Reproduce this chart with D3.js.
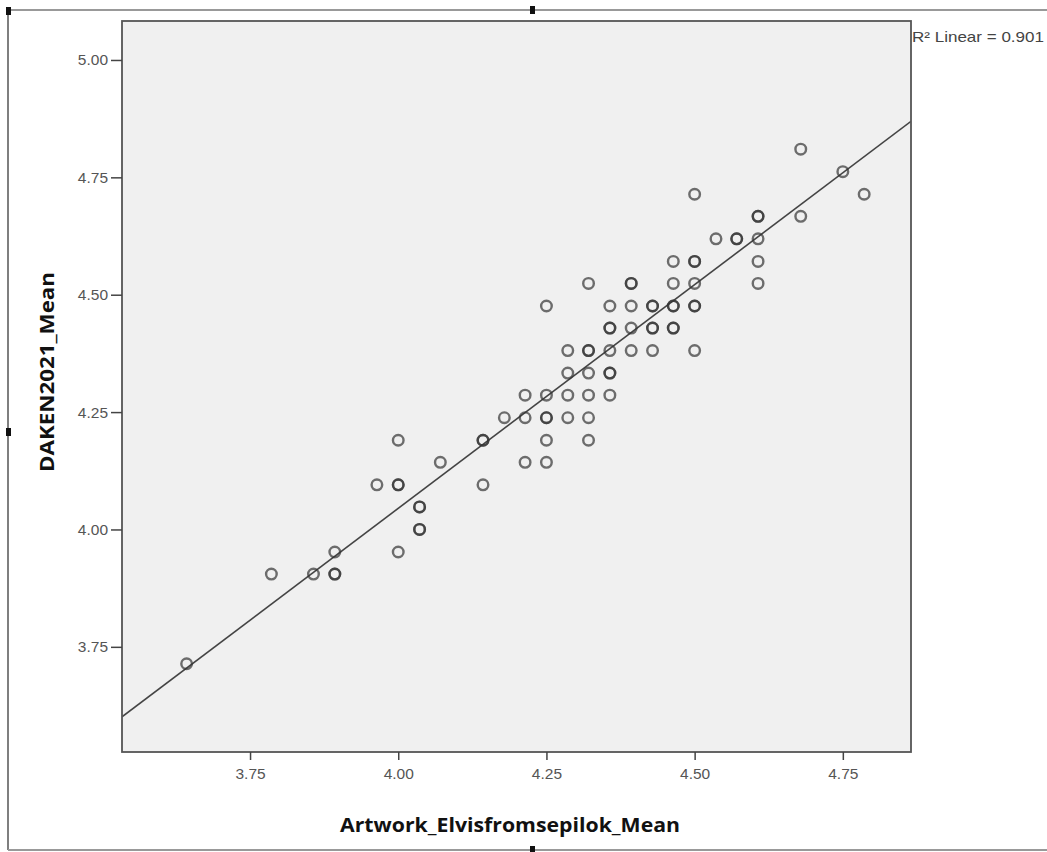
<!DOCTYPE html>
<html>
<head>
<meta charset="utf-8">
<script src="https://cdn.jsdelivr.net/npm/d3@7"></script>
<style>
  body { margin: 0; background: #fff; }
  .tick text { font-family: "Liberation Sans", Arial, sans-serif; font-size: 15.5px; fill: #555; }
  .tick line { stroke: #444; stroke-width: 1.5; }
  .title { font-family: "Open Sans", sans-serif; font-weight: bold; font-size: 20px; fill: #111; }
</style>
</head>
<body>
<svg id="chart"></svg>
<script>
// data (x steps of 1/28, y steps of 1/21)
var xValues = [3.643, 3.786, 3.857, 3.893, 3.893, 4.000, 3.964, 4.000, 4.000, 4.071,
               4.036, 4.036, 4.143, 4.143, 4.179, 4.214, 4.214, 4.214, 4.250, 4.250,
               4.250, 4.250, 4.250, 4.286, 4.286, 4.286, 4.286, 4.321, 4.321, 4.321,
               4.321, 4.321, 4.321, 4.357, 4.357, 4.357, 4.357, 4.357, 4.393, 4.393,
               4.393, 4.393, 4.429, 4.429, 4.429, 4.464, 4.464, 4.464, 4.464, 4.500,
               4.500, 4.500, 4.500, 4.500, 4.536, 4.571, 4.607, 4.607, 4.607, 4.607,
               4.679, 4.679, 4.750, 4.786];
var yValues = [3.714, 3.905, 3.905, 3.905, 3.952, 3.952, 4.095, 4.095, 4.190, 4.143,
               4.048, 4.000, 4.095, 4.190, 4.238, 4.238, 4.286, 4.143, 4.143, 4.190,
               4.238, 4.286, 4.476, 4.238, 4.286, 4.333, 4.381, 4.190, 4.238, 4.286,
               4.333, 4.381, 4.524, 4.286, 4.333, 4.381, 4.429, 4.476, 4.381, 4.429,
               4.476, 4.524, 4.381, 4.429, 4.476, 4.429, 4.476, 4.524, 4.571, 4.381,
               4.476, 4.524, 4.571, 4.714, 4.619, 4.619, 4.524, 4.571, 4.619, 4.667,
               4.667, 4.810, 4.762, 4.714];
// how many cases sit on the same spot (darker rings in the picture)
var counts = [1, 1, 1, 2, 1, 1, 1, 2, 1, 1,
              2, 2, 1, 2, 1, 1, 1, 1, 1, 1,
              2, 1, 1, 1, 1, 1, 1, 1, 1, 1,
              1, 2, 1, 1, 2, 1, 2, 1, 1, 1,
              1, 2, 1, 2, 2, 2, 2, 1, 1, 1,
              2, 1, 2, 1, 1, 2, 1, 1, 1, 2,
              1, 1, 1, 1];
var xTicks = [3.75, 4.00, 4.25, 4.50, 4.75];
var yTicks = [3.75, 4.00, 4.25, 4.50, 4.75, 5.00];
var fitIntercept = 0.233;
var fitSlope = 0.953;
var r2Label = "R\u00b2 Linear = 0.901";
var xTitle = "Artwork_Elvisfromsepilok_Mean";
var yTitle = "DAKEN2021_Mean";

var width = 1047;
var height = 852;
var plotLeft = 122, plotRight = 911, plotTop = 21, plotBottom = 752;

var svg = d3.select("#chart").attr("width", width).attr("height", height);

var x = d3.scaleLinear().domain([3.534, 4.865]).range([plotLeft, plotRight]);
var y = d3.scaleLinear().domain([3.526, 5.083]).range([plotBottom, plotTop]);

// outer frame of the pasted picture
svg.append("line").attr("x1", 8).attr("y1", 10).attr("x2", width).attr("y2", 10)
    .attr("stroke", "#999").attr("stroke-width", 2);
svg.append("line").attr("x1", 8).attr("y1", 10).attr("x2", 8).attr("y2", 850)
    .attr("stroke", "#555").attr("stroke-width", 1.5);
svg.append("line").attr("x1", 8).attr("y1", 850).attr("x2", width).attr("y2", 850)
    .attr("stroke", "#999").attr("stroke-width", 2);
[[6, 7], [530, 6], [6, 428], [530, 846]].forEach(function (h) {
    svg.append("rect").attr("x", h[0]).attr("y", h[1]).attr("width", 5).attr("height", 8).attr("fill", "#111");
});

// plot area
svg.append("rect")
    .attr("x", plotLeft).attr("y", plotTop)
    .attr("width", plotRight - plotLeft).attr("height", plotBottom - plotTop)
    .attr("fill", "#f0f0f0");

svg.append("clipPath").attr("id", "clip")
    .append("rect").attr("x", plotLeft).attr("y", plotTop)
    .attr("width", plotRight - plotLeft).attr("height", plotBottom - plotTop);

// fit line
var x0 = x.domain()[0], x1 = x.domain()[1];
svg.append("line")
    .attr("clip-path", "url(#clip)")
    .attr("x1", x(x0)).attr("y1", y(fitIntercept + fitSlope * x0))
    .attr("x2", x(x1)).attr("y2", y(fitIntercept + fitSlope * x1))
    .attr("stroke", "#444").attr("stroke-width", 1.6);

// points
var points = [];
xValues.forEach(function (d, i) {
    for (var k = 0; k < counts[i]; k++) {
        points.push({ x: d, y: yValues[i] });
    }
});

svg.append("g").selectAll("circle")
    .data(points)
    .enter().append("circle")
    .attr("cx", function (d) { return x(d.x); })
    .attr("cy", function (d) { return y(d.y); })
    .attr("r", 5.3)
    .attr("fill", "none")
    .attr("stroke", "#333")
    .attr("stroke-opacity", 0.7)
    .attr("stroke-width", 2.4);

svg.append("rect")
    .attr("x", plotLeft).attr("y", plotTop)
    .attr("width", plotRight - plotLeft).attr("height", plotBottom - plotTop)
    .attr("fill", "none").attr("stroke", "#555").attr("stroke-width", 1.8);

// axes
var xAxis = svg.append("g")
    .attr("transform", "translate(0," + plotBottom + ")")
    .call(d3.axisBottom(x).tickValues(xTicks).tickFormat(d3.format(".2f")).tickSize(8).tickPadding(8));
xAxis.select(".domain").remove();

var yAxis = svg.append("g")
    .attr("transform", "translate(" + plotLeft + ",0)")
    .call(d3.axisLeft(y).tickValues(yTicks).tickFormat(d3.format(".2f")).tickSize(11).tickPadding(3));
yAxis.select(".domain").remove();

// titles
svg.append("text").attr("class", "title")
    .attr("x", 510).attr("y", 832)
    .attr("text-anchor", "middle")
    .attr("textLength", 340).attr("lengthAdjust", "spacingAndGlyphs")
    .text(xTitle);

svg.append("text").attr("class", "title")
    .attr("transform", "translate(54,372) rotate(-90)")
    .attr("text-anchor", "middle")
    .attr("textLength", 200).attr("lengthAdjust", "spacingAndGlyphs")
    .text(yTitle);

svg.append("text")
    .attr("x", plotRight + 1).attr("y", 42)
    .attr("font-family", "Liberation Sans, Arial, sans-serif")
    .attr("font-size", 15)
    .attr("fill", "#444")
    .attr("textLength", 132).attr("lengthAdjust", "spacingAndGlyphs")
    .text(r2Label);
</script>
</body>
</html>
